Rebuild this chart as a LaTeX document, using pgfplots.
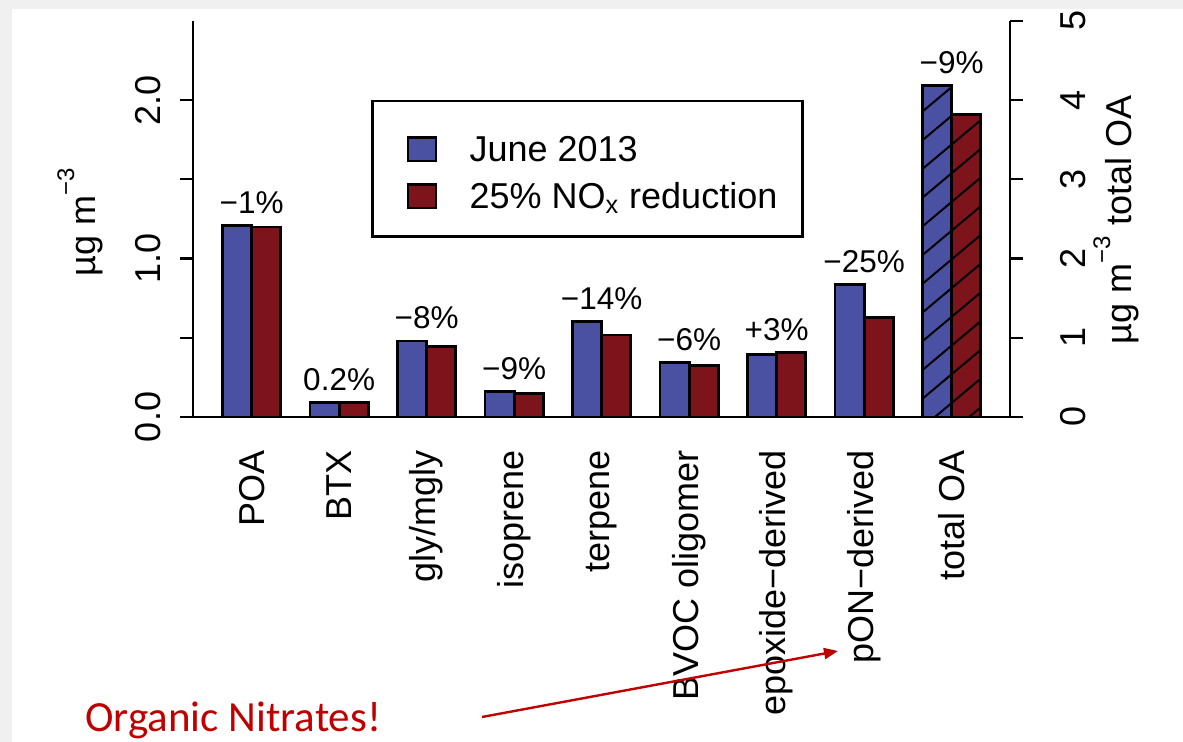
\documentclass[border=0pt]{standalone}
\usepackage{pgfplots}
\pgfplotsset{compat=1.18}
\usepackage{fontspec}
\setmainfont{Liberation Sans}
\newfontfamily\notefont{Carlito}
\usetikzlibrary{arrows.meta,patterns.meta}

\definecolor{juneblue}{RGB}{74,81,163}
\definecolor{noxred}{RGB}{126,20,27}
\definecolor{slidegrey}{RGB}{240,240,240}
\definecolor{notered}{RGB}{192,0,0}

\newcommand{\unitlabel}{µg m\raisebox{10.5pt}{\fontsize{12}{12}\selectfont −3}}

\pgfplotsset{
  concframe/.style={
    at={(96.65pt,162.5pt)}, anchor=south west,
    scale only axis, width=408.35pt, height=198pt,
    xmin=-0.6667, xmax=8.6667,
    clip=false,
    tick align=outside,
    major tick length=6.5pt,
    axis line style={-, line width=1.1pt, black},
    every tick/.style={black, line width=1.1pt},
    ybar, bar width=14.58pt,
  },
}
\tikzset{
  pct/.style={font=\fontsize{15.75}{16}\selectfont, inner sep=0pt, anchor=base, yshift=6pt},
  hatch/.style={postaction={pattern={Lines[angle=40,distance=11pt,line width=1pt]},pattern color=black}},
}

\begin{document}
\begin{tikzpicture}[x=1pt,y=1pt]
\useasboundingbox (0,0) rectangle (591.5,371);
\fill[white] (0,0) rectangle (591.5,371);
\fill[slidegrey] (0,366.5) rectangle (591.5,371);
\fill[slidegrey] (0,0) rectangle (5.85,371);

% species concentrations, left scale
\begin{axis}[
  concframe,
  ymin=0, ymax=2.5,
  axis x line*=bottom, axis y line*=left,
  xtick={0,...,8},
  xticklabels={POA,BTX,gly/mgly,isoprene,terpene,BVOC oligomer,epoxide−derived,pON−derived,total OA},
  x tick style={draw=none},
  xticklabel shift=10pt,
  xticklabel style={rotate=90, anchor=east, inner sep=0pt, font=\fontsize{18}{18}\selectfont},
  ytick={0,0.5,1,1.5,2},
  yticklabels={0.0,,1.0,,2.0},
  yticklabel shift=9.75pt,
  yticklabel style={rotate=90, anchor=south, inner sep=0pt, font=\fontsize{18}{18}\selectfont},
  legend cell align=left,
  legend image code/.code={
    \path (0pt,0pt);
    \draw[#1, line width=1.1pt] (6.5pt,-7.85pt) rectangle (20.5pt,3.85pt);
  },
  legend style={at={(0.2179,0.8005)}, anchor=north west,
    draw=black, line width=1.2pt,
    inner xsep=10.5pt, inner ysep=10.3pt, row sep=0pt,
    font=\fontsize{18}{18}\selectfont,
    nodes={inner sep=2pt, text height=18pt, text depth=1.5pt},
    /tikz/every odd column/.append style={column sep=14.3pt}},
]
\addplot[fill=juneblue, draw=black, line width=1.4pt, bar shift=-7.29pt]
  coordinates {(0,1.21) (1,0.0930) (2,0.480) (3,0.160) (4,0.602) (5,0.343) (6,0.397) (7,0.834)};
\addplot[fill=noxred, draw=black, line width=1.4pt, bar shift=7.29pt]
  coordinates {(0,1.20) (1,0.0932) (2,0.443) (3,0.146) (4,0.518) (5,0.323) (6,0.409) (7,0.626)};
\legend{June 2013, 25\% NO\textsubscript{x} reduction}
\node[pct] at (axis cs:0,1.21)  {−1\%};
\node[pct] at (axis cs:1,0.0932) {0.2\%};
\node[pct] at (axis cs:2,0.480) {−8\%};
\node[pct] at (axis cs:3,0.160) {−9\%};
\node[pct] at (axis cs:4,0.602) {−14\%};
\node[pct] at (axis cs:5,0.343) {−6\%};
\node[pct] at (axis cs:6,0.409) {+3\%};
\node[pct] at (axis cs:7,0.834) {−25\%};
\end{axis}

% total organic aerosol, right scale
\begin{axis}[
  concframe,
  ymin=0, ymax=5,
  axis x line=none, axis y line*=right,
  ytick={0,1,2,3,4,5},
  yticklabels={0,1,2,3,4,5},
  yticklabel shift=18.5pt,
  yticklabel style={rotate=90, anchor=north, inner sep=0pt, font=\fontsize{18}{18}\selectfont},
]
\addplot[fill=juneblue, draw=black, line width=1.4pt, bar shift=-7.29pt, hatch]
  coordinates {(8,4.19)};
\addplot[fill=noxred, draw=black, line width=1.4pt, bar shift=7.29pt, hatch]
  coordinates {(8,3.82)};
\node[pct] at (axis cs:8,4.19) {−9\%};
\end{axis}

% axis titles
\node[rotate=90, anchor=base, inner sep=0pt, font=\fontsize{18}{18}\selectfont] at (47.5,260) {\unitlabel};
\node[rotate=90, anchor=base, inner sep=0pt, font=\fontsize{18}{18}\selectfont] at (565.5,261) {\unitlabel{} total OA};

% slide note
\node[anchor=base west, inner sep=0pt, text=notered, font=\notefont\fontsize{21.5}{22}\selectfont] at (42.5,5) {Organic Nitrates!};
\draw[notered, line width=1.2pt, -{Triangle[length=7pt,width=5.5pt]}] (241,12.5) -- (419,45.5);
\end{tikzpicture}
\end{document}
